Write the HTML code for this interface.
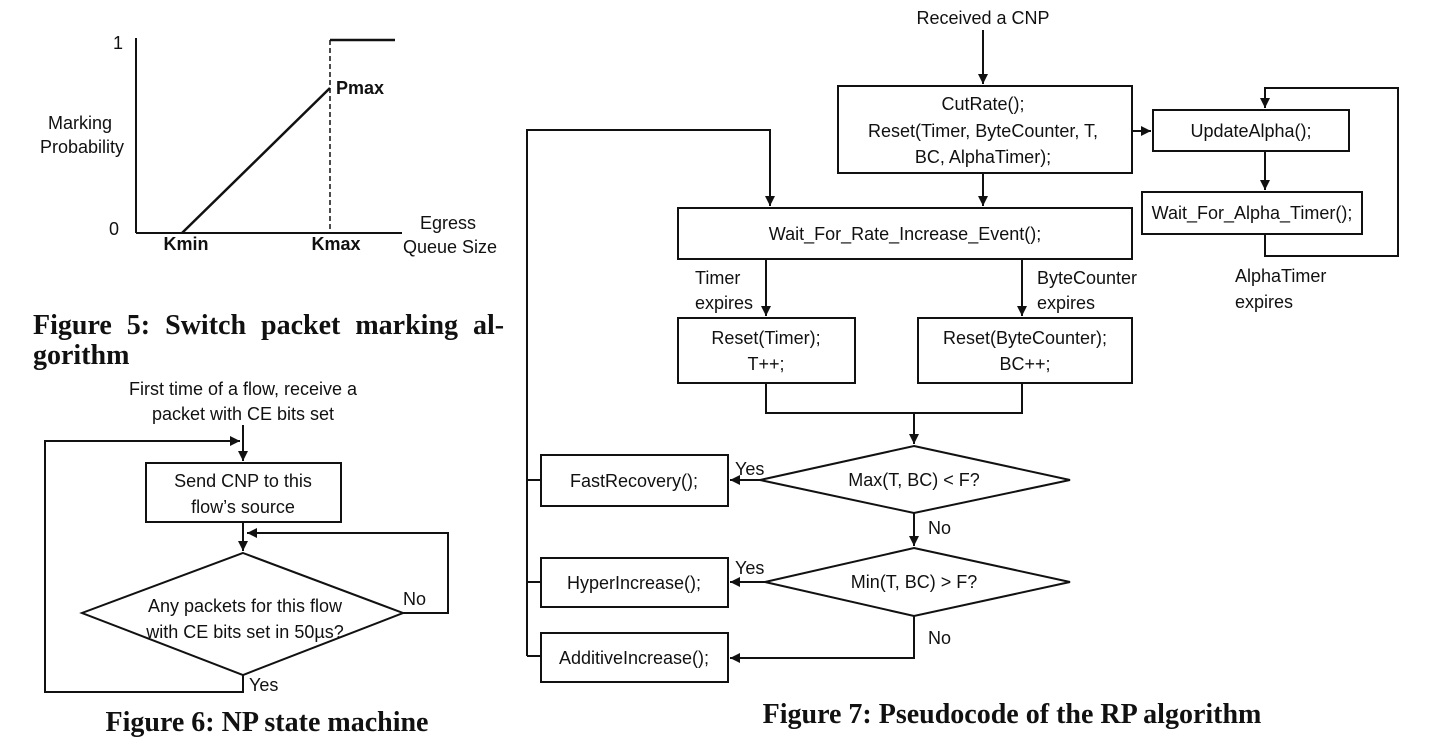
<!DOCTYPE html>
<html><head><meta charset="utf-8"><style>
html,body{margin:0;padding:0;background:#fff;}
svg{display:block;}
text{font-family:"Liberation Sans",sans-serif;font-size:18px;fill:#111;}
.c{text-anchor:middle;}
.b{font-weight:bold;}
.cap{font-family:"Liberation Serif",serif;font-weight:bold;font-size:28px;}
</style></head><body>
<svg width="1440" height="756" viewBox="0 0 1440 756" xmlns="http://www.w3.org/2000/svg">
<defs><marker id="a" viewBox="0 0 10 10" refX="10" refY="5" markerWidth="5" markerHeight="5" orient="auto-start-reverse"><path d="M0,0 L10,5 L0,10 z" fill="#111"/></marker></defs>
<g stroke="#111" stroke-width="2" fill="none">
<line x1="136" y1="38" x2="136" y2="233"/>
<line x1="136" y1="233" x2="402" y2="233"/>
<line x1="182" y1="233" x2="330" y2="88" stroke-width="2.5"/>
<line x1="330" y1="40" x2="330" y2="230" stroke-dasharray="5,3" stroke-width="1.5"/>
<line x1="330" y1="40" x2="395" y2="40" stroke-width="2.5"/>
<line x1="243" y1="425" x2="243" y2="461" marker-end="url(#a)"/>
<rect x="146" y="463" width="195" height="59"/>
<line x1="243" y1="522" x2="243" y2="551" marker-end="url(#a)"/>
<polygon points="243,553 403,613 243,675 82,613"/>
<polyline points="403,613 448,613 448,533 247,533" marker-end="url(#a)"/>
<polyline points="243,675 243,692 45,692 45,441 240,441" marker-end="url(#a)"/>
<line x1="983" y1="30" x2="983" y2="84" marker-end="url(#a)"/>
<rect x="838" y="86" width="294" height="87"/>
<line x1="1132" y1="131" x2="1151" y2="131" marker-end="url(#a)"/>
<rect x="1153" y="110" width="196" height="41"/>
<line x1="1265" y1="151" x2="1265" y2="190" marker-end="url(#a)"/>
<rect x="1142" y="192" width="220" height="42"/>
<polyline points="1265,234 1265,256 1398,256 1398,88 1265,88 1265,108" marker-end="url(#a)"/>
<line x1="983" y1="173" x2="983" y2="206" marker-end="url(#a)"/>
<rect x="678" y="208" width="454" height="51"/>
<polyline points="527,656 527,130 770,130 770,206" marker-end="url(#a)"/>
<line x1="766" y1="259" x2="766" y2="316" marker-end="url(#a)"/>
<line x1="1022" y1="259" x2="1022" y2="316" marker-end="url(#a)"/>
<rect x="678" y="318" width="177" height="65"/>
<rect x="918" y="318" width="214" height="65"/>
<polyline points="766,383 766,413 1022,413 1022,383"/>
<line x1="914" y1="413" x2="914" y2="444" marker-end="url(#a)"/>
<polygon points="914,446 1070,480 914,513 760,480"/>
<line x1="760" y1="480" x2="730" y2="480" marker-end="url(#a)"/>
<rect x="541" y="455" width="187" height="51"/>
<line x1="914" y1="513" x2="914" y2="546" marker-end="url(#a)"/>
<polygon points="914,548 1070,582 914,616 765,582"/>
<line x1="765" y1="582" x2="730" y2="582" marker-end="url(#a)"/>
<rect x="541" y="558" width="187" height="49"/>
<polyline points="914,616 914,658 730,658" marker-end="url(#a)"/>
<rect x="541" y="633" width="187" height="49"/>
<line x1="527" y1="480" x2="541" y2="480"/>
<line x1="527" y1="582" x2="541" y2="582"/>
<line x1="527" y1="656" x2="541" y2="656"/>
</g>
<text x="118" y="49" class="c">1</text>
<text x="114" y="235" class="c">0</text>
<text x="80" y="129" class="c">Marking</text>
<text x="82" y="153" class="c">Probability</text>
<text x="186" y="250" class="c b" font-size="17">Kmin</text>
<text x="336" y="250" class="c b" font-size="17">Kmax</text>
<text x="336" y="94" class="b" font-size="17">Pmax</text>
<text x="448" y="229" class="c">Egress</text>
<text x="450" y="253" class="c">Queue Size</text>
<text x="33" y="334" class="cap" word-spacing="8">Figure 5:  Switch packet marking al-</text>
<text x="33" y="364" class="cap">gorithm</text>
<text x="243" y="395" class="c">First time of a flow, receive a</text>
<text x="243" y="420" class="c">packet with CE bits set</text>
<text x="243" y="487" class="c">Send CNP to this</text>
<text x="243" y="513" class="c">flow’s source</text>
<text x="245" y="612" class="c">Any packets for this flow</text>
<text x="245" y="638" class="c">with CE bits set in 50µs?</text>
<text x="403" y="605">No</text>
<text x="249" y="691">Yes</text>
<text x="267" y="731" class="cap c" font-size="27">Figure 6: NP state machine</text>
<text x="983" y="24" class="c">Received a CNP</text>
<text x="983" y="110" class="c">CutRate();</text>
<text x="983" y="137" class="c">Reset(Timer, ByteCounter, T,</text>
<text x="983" y="163" class="c">BC, AlphaTimer);</text>
<text x="1251" y="137" class="c">UpdateAlpha();</text>
<text x="1252" y="219" class="c">Wait_For_Alpha_Timer();</text>
<text x="905" y="240" class="c">Wait_For_Rate_Increase_Event();</text>
<text x="1235" y="282">AlphaTimer</text>
<text x="1235" y="308">expires</text>
<text x="695" y="284">Timer</text>
<text x="695" y="309">expires</text>
<text x="1037" y="284">ByteCounter</text>
<text x="1037" y="309">expires</text>
<text x="766" y="344" class="c">Reset(Timer);</text>
<text x="766" y="370" class="c">T++;</text>
<text x="1025" y="344" class="c">Reset(ByteCounter);</text>
<text x="1025" y="370" class="c">BC++;</text>
<text x="914" y="486" class="c">Max(T, BC) &lt; F?</text>
<text x="735" y="475">Yes</text>
<text x="634" y="487" class="c">FastRecovery();</text>
<text x="928" y="534">No</text>
<text x="914" y="588" class="c">Min(T, BC) &gt; F?</text>
<text x="735" y="574">Yes</text>
<text x="634" y="589" class="c">HyperIncrease();</text>
<text x="928" y="644">No</text>
<text x="634" y="664" class="c">AdditiveIncrease();</text>
<text x="1012" y="723" class="cap c" font-size="28">Figure 7: Pseudocode of the RP algorithm</text>
</svg>
</body></html>
